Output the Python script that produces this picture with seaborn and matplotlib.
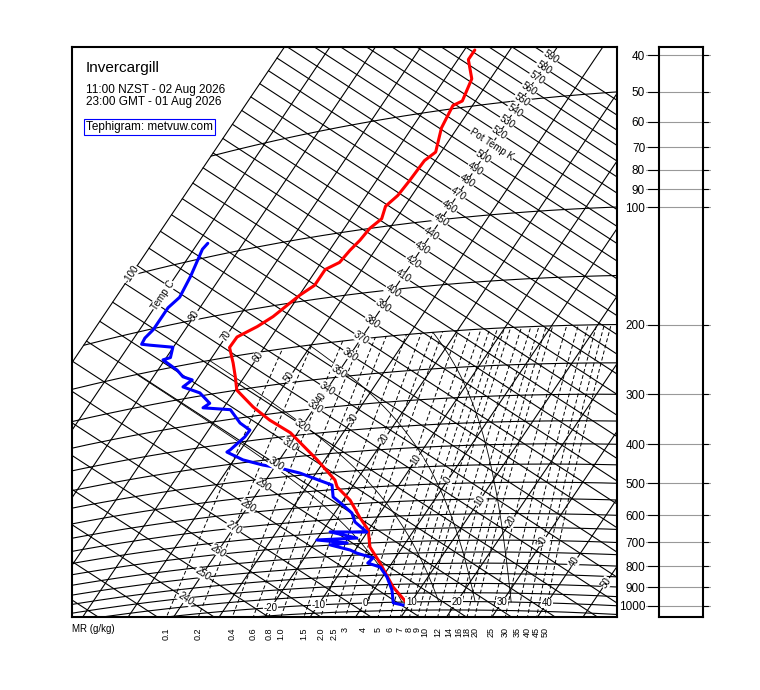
import numpy as np
import matplotlib
matplotlib.use("Agg")
import matplotlib.pyplot as plt
import seaborn as sns

sns.set_style("white")
plt.rcParams['font.family'] = ['Liberation Sans', 'DejaVu Sans']
plt.rcParams['text.color'] = 'black'
plt.rcParams['ytick.labelcolor'] = 'black'

# sounding (pressure hPa, temperature C)
temp_p = [1006, 914, 791, 717, 647, 600, 537, 493, 472, 413, 343, 312, 283, 250, 229, 209, 188, 177,
          169, 161, 150, 144, 137, 125, 121, 113, 107, 100, 95, 88, 83, 76, 68, 65, 56, 49, 48, 42, 37, 35]
temp_t = [9.2, 3.8, -2.6, -7.2, -10.1, -13.7, -18.5, -23.3, -24.8, -31.7, -41.6, -48.0, -53.6, -59.7,
          -62.0, -64.5, -67.6, -67.5, -64.6, -62.6, -60.9, -59.9, -58.1, -58.1, -56.0, -55.5, -54.8,
          -54.4, -53.2, -54.2, -53.1, -52.7, -52.4, -51.2, -53.5, -54.3, -52.9, -54.1, -57.7, -57.7]
dew_p = [1018, 1004, 930, 861, 810, 789, 766, 741, 726, 699, 695, 675, 677, 646, 652, 655, 614, 581,
         552, 523, 486, 461, 444, 425, 412, 393, 369, 365, 340, 327, 310, 282, 271, 265, 245, 231,
         223, 216, 205, 188, 187, 175, 167, 164, 158, 151, 133, 126, 111, 94, 91]
dew_t = [8.7, 6.2, 4.0, 1.0, -2.0, -5.3, -4.9, -9.2, -11.1, -16.3, -12.8, -19.9, -11.4, -18.2, -13.1,
         -10.1, -14.2, -16.2, -19.3, -22.7, -24.7, -29.9, -33.5, -38.7, -42.9, -48.0, -52.7, -52.3,
         -51.0, -50.9, -54.1, -58.2, -64.5, -63.7, -67.4, -72.0, -71.0, -73.5, -75.8, -80.4, -79.1,
         -80.1, -85.5, -87.4, -87.6, -87.0, -87.0, -86.0, -86.7, -88.1, -87.8]

isotherms = np.arange(-100, 60, 10)
isentropes = np.arange(220, 600, 10)
isobars = [50, 100, 150, 200, 250, 300, 350, 400, 450, 500, 550, 600, 650, 700, 750, 800, 850, 900, 950, 1000, 1050]
mix_ratios = [0.1, 0.2, 0.4, 0.6, 0.8, 1.0, 1.5, 2.0, 2.5, 3, 4, 5, 6, 7, 8, 9, 10, 12, 14, 16, 18, 20,
              25, 30, 35, 40, 45, 50]
mix_labels = ['0.1', '0.2', '0.4', '0.6', '0.8', '1.0', '1.5', '2.0', '2.5', '3', '4', '5', '6', '7',
              '8', '9', '10', '12', '14', '16', '18', '20', '25', '30', '35', '40', '45', '50']
wet_adiabats = [8, 16, 24, 32]
panel_p = [40, 50, 60, 70, 80, 90, 100, 200, 300, 400, 500, 600, 700, 800, 900, 1000]

K = 0.286
XL, XR, YB, YT = -293, 252, -14, 556


def theta(t, p):
    return (np.asarray(t) + 273.15) * (1000.0 / np.asarray(p)) ** K


def proj(t, th):
    t = np.asarray(t, float)
    L = np.log(np.asarray(th, float) / 273.15)
    return 3.165 * t + 405.3 * L, -2.055 * t + 602.1 * L


def proj_tp(t, p):
    return proj(t, theta(t, p))


def dewpoint(w, p):
    e = w * p / (622.0 + w)
    a = np.log(e / 6.112)
    return 243.5 * a / (17.67 - a)


def moist(tw, p_end=200):
    ps = np.linspace(1000, p_end, 400)
    ts = [tw]
    for i in range(1, len(ps)):
        T = ts[-1] + 273.15
        es = 6.112 * np.exp(17.67 * (T - 273.15) / (T - 29.65))
        rs = 0.622 * es / (ps[i - 1] - es)
        Lv, Rd, cp = 2.5e6, 287.0, 1004.0
        dtdp = (Rd * T + Lv * rs) / (ps[i - 1] * (cp + Lv ** 2 * rs * 0.622 / (Rd * T ** 2)))
        ts.append(ts[-1] + dtdp * (ps[i] - ps[i - 1]))
    return np.array(ts), ps


fig = plt.figure(figsize=(7.6, 6.9), dpi=100)
ax = fig.add_axes([72 / 760, 73 / 690, 545 / 760, 570 / 690])
ax.set_xlim(XL, XR)
ax.set_ylim(YB, YT)
ax.set_xticks([])
ax.set_yticks([])
for s in ax.spines.values():
    s.set_linewidth(1.5)
    s.set_color('black')

kw = dict(color='black', lw=0.8)
for t in isotherms:
    th = np.linspace(180, 800, 50)
    ax.plot(*proj(np.full_like(th, t), th), **kw)
for th in isentropes:
    t = np.linspace(-100, 60, 50)
    ax.plot(*proj(t, np.full_like(t, th)), **kw)
for p in isobars:
    t = np.linspace(-100, 60, 200)
    ax.plot(*proj_tp(t, np.full_like(t, p)), **kw)

# mixing ratio lines (dashed)
pm = np.linspace(1100, 200, 100)
for w, lab in zip(mix_ratios, mix_labels):
    x, y = proj_tp(dewpoint(w, pm), pm)
    ax.plot(x, y, color='black', lw=0.7, ls=(0, (4, 2.5)))
    xb = np.interp(YB, y, x)
    if XL < xb < XR:
        ax.text(xb, YB - 10, lab, rotation=90, ha='center', va='top', fontsize=6.5, clip_on=False)
ax.text(XL, YB - 12, 'MR (g/kg)', ha='left', va='center', fontsize=7, clip_on=False)

# saturated adiabats
for tw in wet_adiabats:
    ts, ps = moist(tw)
    ax.plot(*proj_tp(ts, ps), color='black', lw=0.6)

box = dict(facecolor='white', edgecolor='none', pad=0.3)
# isentrope labels along -40 C isotherm
for th in isentropes:
    if th == 510:
        continue
    x, y = proj(-40, th)
    if XL + 5 < x < XR - 5 and YB + 5 < y < YT - 3:
        ax.text(x, y, str(th), rotation=-33, ha='center', va='center', fontsize=7, bbox=box)
x, y = proj(-40, 510)
ax.text(x, y, 'Pot Temp K', rotation=-33, ha='center', va='center', fontsize=7, bbox=box)

# isotherm labels along 335 K isentrope
for t in isotherms:
    if t == -90:
        continue
    x, y = proj(t, 335)
    if XL < x < XR and YB + 10 < y < YT:
        ax.text(x, y, '-100' if t == -100 else str(abs(t)), rotation=56, ha='center', va='center',
                fontsize=7, bbox=box)
x, y = proj(-90, 335)
ax.text(x, y, 'Temp C', rotation=56, ha='center', va='center', fontsize=7, bbox=box)
for t in range(-20, 50, 10):
    x, y = proj_tp(t, 1000)
    ax.text(x, y, str(t), ha='center', va='center', fontsize=7, bbox=box)

# sounding
ax.plot(*proj_tp(temp_t, temp_p), color='red', lw=2.2)
ax.plot(*proj_tp(dew_t, dew_p), color='blue', lw=2.2)

ax.text(0.025, 0.975, 'Invercargill', transform=ax.transAxes, fontsize=11, va='top')
ax.text(0.025, 0.935, '11:00 NZST - 02 Aug 2026\n23:00 GMT - 01 Aug 2026', transform=ax.transAxes,
        fontsize=8.5, va='top', linespacing=1.05)
ax.text(0.025, 0.87, 'Tephigram: metvuw.com', transform=ax.transAxes, fontsize=8.5, va='top',
        bbox=dict(facecolor='white', edgecolor='blue', pad=1.5, lw=0.8))

# right-hand pressure panel: height of each isobar at the right edge
ax2 = fig.add_axes([659 / 760, 73 / 690, 44 / 760, 570 / 690])
ax2.set_xlim(0, 1)
ax2.set_ylim(YB, YT)
ax2.set_xticks([])
tt = np.linspace(-120, 80, 4000)
ys = []
for p in panel_p:
    x, y = proj_tp(tt, np.full_like(tt, p))
    ys.append(np.interp(XR, x, y))
ax2.set_yticks(ys)
ax2.set_yticklabels([str(p) for p in panel_p], fontsize=8.5)
ax2.tick_params(axis='y', length=0, pad=10)
for y in ys:
    ax2.axhline(y, xmin=-0.3, xmax=1.15, color='0.6', lw=0.8, clip_on=False)
    ax2.plot([1, 1.12], [y, y], color='black', lw=0.8, clip_on=False)
    ax2.plot([-0.25, 0], [y, y], color='black', lw=0.8, clip_on=False)
for s in ax2.spines.values():
    s.set_linewidth(1.5)
    s.set_color('black')

fig.savefig('out.png', dpi=100)
